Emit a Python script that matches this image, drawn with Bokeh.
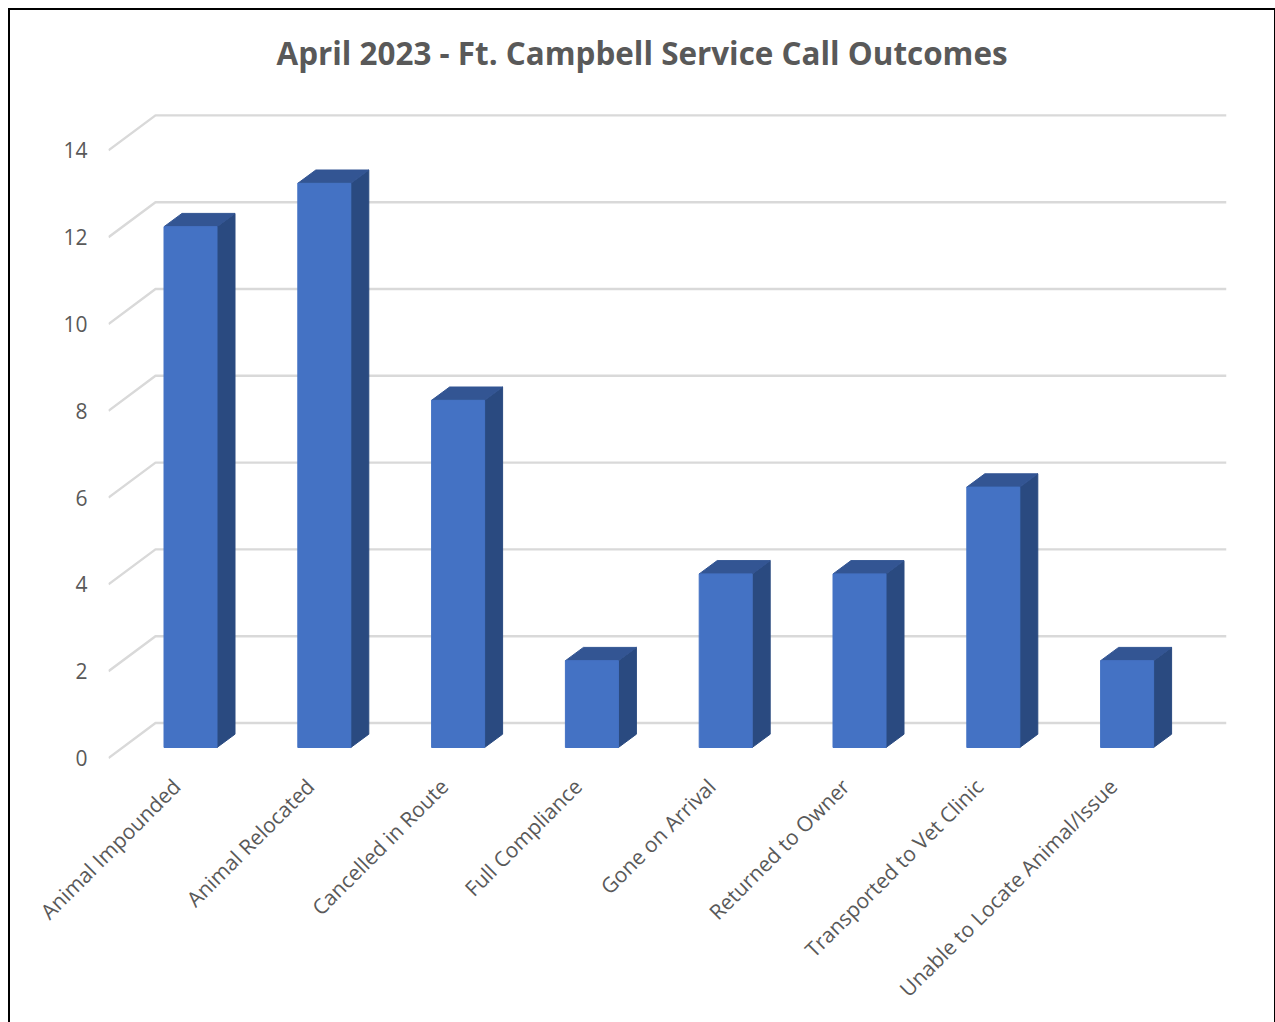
from math import pi
from bokeh.embed import file_html
from bokeh.resources import INLINE
from bokeh.plotting import figure
from bokeh.models import Range1d, FixedTicker, Title

categories = ["Animal Impounded", "Animal Relocated", "Cancelled in Route", "Full Compliance",
              "Gone on Arrival", "Returned to Owner", "Transported to Vet Clinic",
              "Unable to Locate Animal/Issue"]
values = [12, 13, 8, 2, 4, 4, 6, 2]
y_ticks = [0, 2, 4, 6, 8, 10, 12, 14]
title_text = "April 2023 - Ft. Campbell Service Call Outcomes"

# layout constants, pixels
W, H = 1275, 1022
LEFT, TOP, FW, FH = 108, 100, 1118, 662
PX_X = 133.8
PX_Y = 43.4
X0_PX = 190.0
Y0_PX = 757.5
LABEL_SHIFT_PX = 14

dx = lambda px: px / PX_X
dy = lambda px: px / PX_Y

x_start = (LEFT - X0_PX) / PX_X
x_end = x_start + FW / PX_X
y_start = (Y0_PX - (TOP + FH)) / PX_Y
y_end = y_start + FH / PX_Y

p = figure(width=W, height=H, output_backend="svg", toolbar_location=None,
           x_range=Range1d(x_start, x_end), y_range=Range1d(y_start, y_end),
           min_border_left=LEFT, min_border_top=TOP,
           min_border_right=W - LEFT - FW, min_border_bottom=H - TOP - FH,
           frame_width=FW, frame_height=FH, outline_line_color=None,
           background_fill_color=None, border_fill_color=None)
p.grid.visible = False
p.extra_x_ranges = {"labels": Range1d(x_start + dx(LABEL_SHIFT_PX), x_end + dx(LABEL_SHIFT_PX))}

# picture border: thick left and top, thin right, cut off at the bottom
p.styles = {"background": "linear-gradient(#000,#000) 8px 8px/2px 100% no-repeat,"
                          "linear-gradient(#000,#000) 8px 8px/100% 2px no-repeat,"
                          "linear-gradient(#000,#000) 1274px 8px/1px 100% no-repeat,#fff"}

# back wall gridlines with a slanted run to the tick
wall_dx, wall_dy = dx(47), dy(35)
grid_xs = [[x_start, x_start + wall_dx, x_end] for _ in y_ticks]
grid_ys = [[v, v + wall_dy, v + wall_dy] for v in y_ticks]
p.multi_line(grid_xs, grid_ys, line_color="#d9d9d9", line_width=2.4)

# 3-D bars
half = dx(26.5)
lift = dy(10.5)
bdx, bdy = dx(18), dy(13.3)
xs = list(range(len(values)))
lefts = [x - half for x in xs]
rights = [x + half for x in xs]
bottoms = [lift for _ in values]
tops = [v + lift for v in values]
p.patches([[r, r + bdx, r + bdx, r] for r in rights],
          [[b, b + bdy, t + bdy, t] for b, t in zip(bottoms, tops)],
          fill_color="#2a4a80", line_color="#2a4a80", line_width=1)
p.patches([[l, l + bdx, r + bdx, r] for l, r in zip(lefts, rights)],
          [[t, t + bdy, t + bdy, t] for t in tops],
          fill_color="#335593", line_color="#335593", line_width=1)
p.quad(left=lefts, right=rights, bottom=bottoms, top=tops,
       fill_color="#4472c4", line_color="#4472c4", line_width=1)

# axes
p.yaxis.ticker = FixedTicker(ticks=y_ticks)
p.yaxis.axis_line_color = None
p.yaxis.major_tick_line_color = None
p.yaxis.minor_tick_line_color = None
p.yaxis.major_label_standoff = 15
p.yaxis.major_label_text_font = "Open Sans"
p.yaxis.major_label_text_font_size = "21px"
p.yaxis.major_label_text_color = "#595959"

xaxis = p.xaxis[0]
xaxis.x_range_name = "labels"
xaxis.ticker = FixedTicker(ticks=xs)
xaxis.major_label_overrides = {i: c for i, c in enumerate(categories)}
xaxis.major_label_orientation = pi / 4
xaxis.axis_line_color = None
xaxis.major_tick_line_color = None
xaxis.minor_tick_line_color = None
xaxis.major_label_standoff = 14
xaxis.major_label_text_font = "Open Sans"
xaxis.major_label_text_font_size = "21px"
xaxis.major_label_text_color = "#595959"

p.title = Title(text=title_text, align="left", offset=168, text_font="Open Sans",
                text_font_style="bold", text_font_size="31.4px", text_color="#595959", standoff=54)

open("out.html", "w").write(file_html(p, INLINE))
